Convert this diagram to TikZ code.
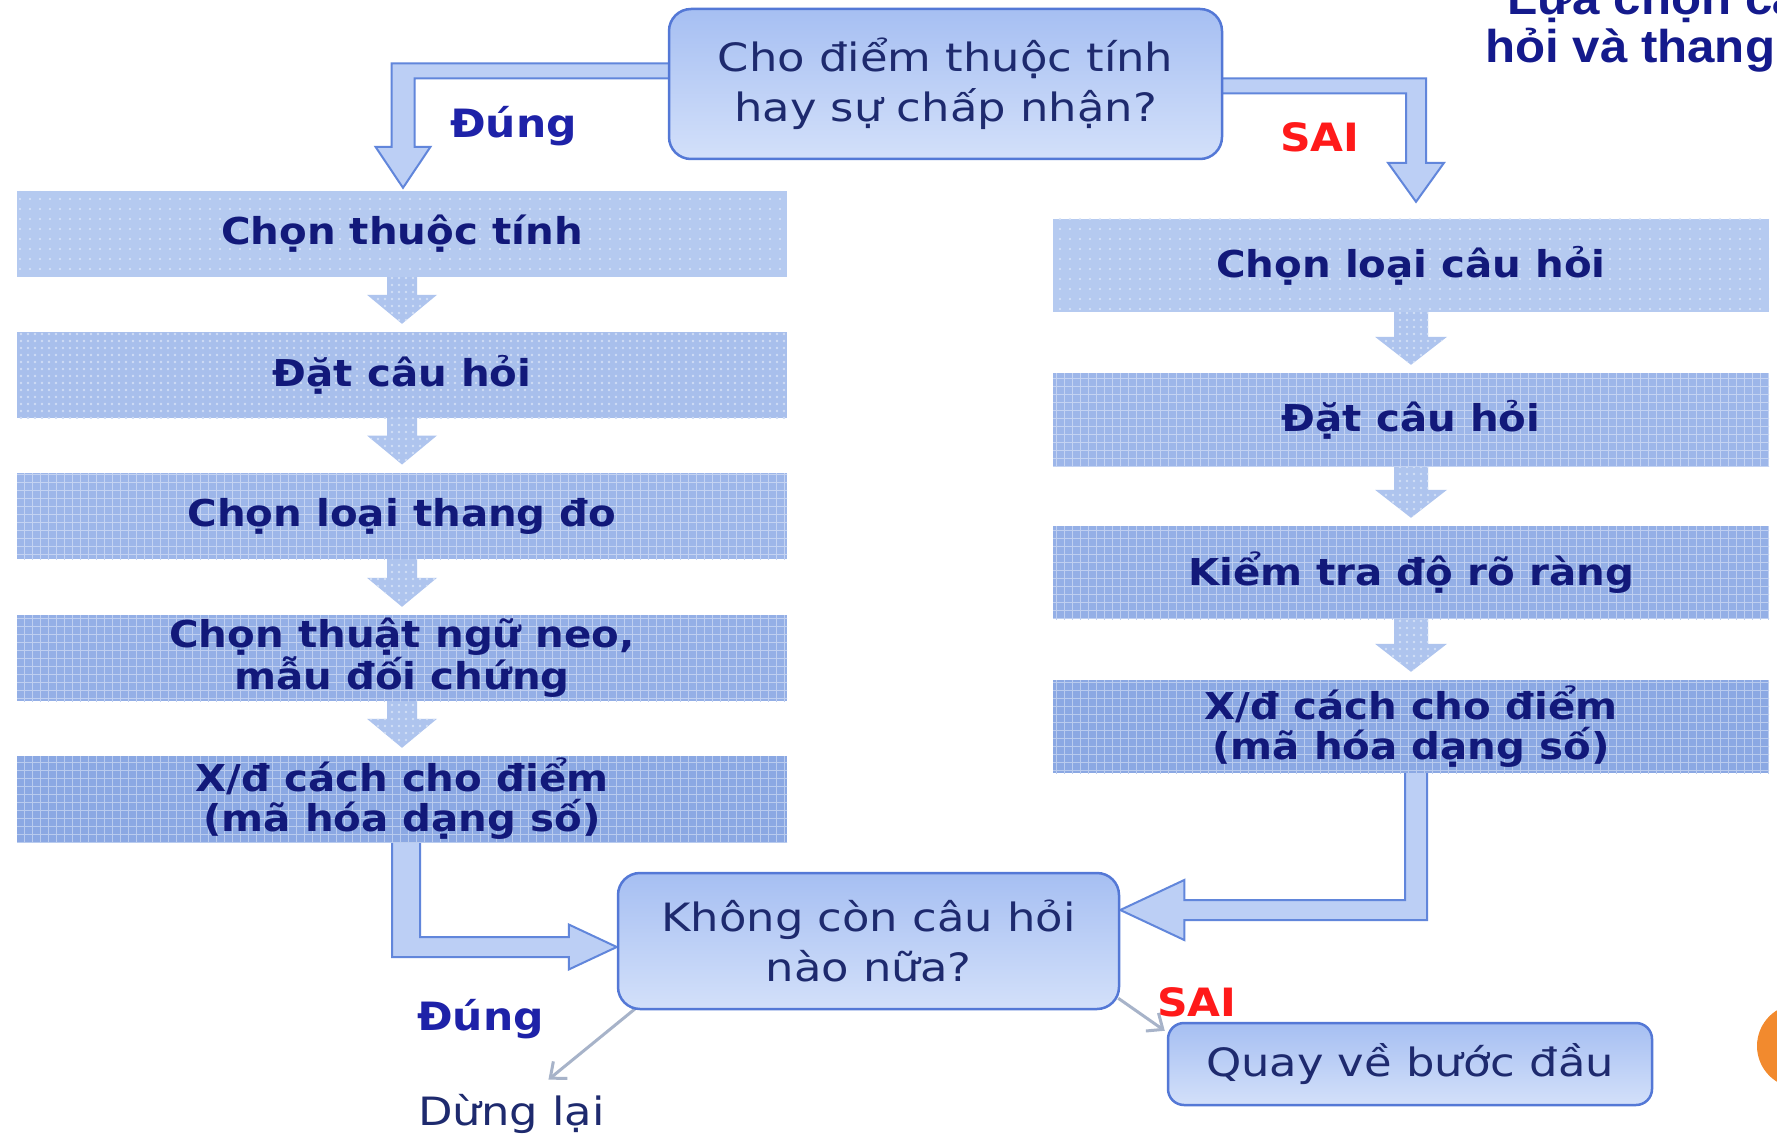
\documentclass[tikz,border=0pt]{standalone}
\usepackage{fontspec}
\setmainfont{DejaVu Sans}
\newfontfamily\regfont{DejaVu Sans}[FakeStretch=1.15]
\newfontfamily\boldfont{DejaVu Sans}[FakeStretch=1.09]
\newfontfamily\titlefont{Liberation Sans}[FakeStretch=1.07]
\usetikzlibrary{calc,patterns.meta,arrows.meta}
\pgfdeclarelayer{bg}
\pgfdeclarelayer{arr}
\pgfsetlayers{bg,arr,main}
\definecolor{cBoxText}{HTML}{12197A}
\definecolor{cRText}{HTML}{1E2A6E}
\definecolor{cLbl}{HTML}{1E22A8}
\definecolor{cSai}{HTML}{FF1A1A}
\definecolor{cTitle}{HTML}{141A8C}
\definecolor{cRBorder}{HTML}{5478D6}
\definecolor{cRTop}{HTML}{A6BFF2}
\definecolor{cRBot}{HTML}{D3E0FA}
\definecolor{cAFill}{HTML}{BCCFF5}
\definecolor{cABorder}{HTML}{6186DB}
\definecolor{cThin}{HTML}{A7B3C9}
\definecolor{cOrange}{HTML}{F28A2E}
\definecolor{cL1}{HTML}{B5CAF0}
\definecolor{cL2}{HTML}{A8BFEC}
\definecolor{cL3}{HTML}{9DB6E9}
\definecolor{cL4}{HTML}{94AFE6}
\definecolor{cL5}{HTML}{8BA8E3}
\definecolor{cArr}{HTML}{AEC4EE}
\newcommand{\blockdown}[5]{%
  \path[finedots=cArr] let \p1=(#1.south), \p2=(#2.north) in
   (\x1-#3,\y1+3pt) -- (\x1+#3,\y1+3pt) -- (\x1+#3,\y2+8pt+#5) -- (\x1+#4,\y2+8pt+#5)
   -- (\x1,\y2+8pt) -- (\x1-#4,\y2+8pt+#5) -- (\x1-#3,\y2+8pt+#5) -- cycle;}
\begin{document}
\begin{tikzpicture}[x=1pt,y=-1pt,
  pbox/.style={minimum width=770pt, minimum height=86pt, inner sep=0pt, align=center,
    text=cBoxText, font=\boldfont\bfseries\fontsize{37}{40}\selectfont},
  rpbox/.style={pbox, minimum width=716pt, minimum height=93pt},
  dotsfill/.style={preaction={fill=#1}, pattern={Dots[distance=10pt,radius=1.2pt]}, pattern color=white!50!#1},
  finedots/.style={preaction={fill=#1}, pattern={Dots[distance=7pt,radius=1.3pt]}, pattern color=white!45!#1},
  gridfill/.style={preaction={fill=#1}, pattern={Hatch[distance=8pt,line width=1pt]}, pattern color=white!40!#1},
  rbox/.style={draw=cRBorder, line width=2.5pt, rounded corners=22pt, top color=cRTop, bottom color=cRBot,
    align=center, text=cRText, inner sep=0pt, font=\regfont\fontsize{39}{50}\selectfont},
  harr/.style={fill=cAFill, draw=cABorder, line width=2pt, line join=miter},
  lbl/.style={anchor=base west, inner sep=0pt, font=\boldfont\bfseries\fontsize{39}{43}\selectfont},
  ttl/.style={anchor=base west, inner sep=0pt, text=cTitle, font=\titlefont\bfseries\fontsize{46}{48}\selectfont},
  tarr/.style={draw=cThin, line width=3pt, -{Straight Barb[length=13pt,width=22pt]}},
]
\useasboundingbox (0,0) rectangle (1777,1139);
\begin{pgfonlayer}{bg}
\fill[white] (0,0) rectangle (1777,1139);
\end{pgfonlayer}
\clip (0,0) rectangle (1777,1139);

% nodes
\node[rbox, minimum width=553pt, minimum height=150pt] (q1) at (945.5,84) {Cho điểm thuộc tính\\hay sự chấp nhận?};
\node[pbox, dotsfill=cL1] (lb1) at (402,234) {Chọn thuộc tính};
\node[pbox, finedots=cL2] (lb2) at (402,375) {Đặt câu hỏi};
\node[pbox, gridfill=cL3] (lb3) at (402,516) {Chọn loại thang đo};
\node[pbox, gridfill=cL4] (lb4) at (402,658) {Chọn thuật ngữ neo,\\mẫu đối chứng};
\node[pbox, gridfill=cL5] (lb5) at (402,799) {X/đ cách cho điểm\\(mã hóa dạng số)};
\node[rpbox, dotsfill=cL1] (rb1) at (1411,265.5) {Chọn loại câu hỏi};
\node[rpbox, gridfill=cL3] (rb2) at (1411,419.5) {Đặt câu hỏi};
\node[rpbox, gridfill=cL4] (rb3) at (1411,572.5) {Kiểm tra độ rõ ràng};
\node[rpbox, gridfill=cL5] (rb4) at (1411,726.5) {X/đ cách cho điểm\\(mã hóa dạng số)};
\node[rbox, minimum width=501pt, minimum height=136pt] (q2) at (868.5,941) {Không còn câu hỏi\\nào nữa?};
\node[rbox, minimum width=484pt, minimum height=82pt, rounded corners=16pt] (back) at (1410,1064) {Quay về bước đầu};
\node[anchor=base west, inner sep=0pt, text=cRText, font=\regfont\fontsize{39}{43}\selectfont] (stop) at (418,1125) {Dừng lại};

% labels
\node[lbl, text=cLbl] (y1) at (450,138) {Đúng};
\node[lbl, text=cSai] (n1) at (1280,152) {SAI};
\node[lbl, text=cLbl] (y2) at (417,1030) {Đúng};
\node[lbl, text=cSai] (n2) at (1157,1016) {SAI};

% cropped title and circle at the edge
\node[ttl] (t1) at (1507,15) {Lựa chọn câu};
\node[ttl] (t2) at (1485,63) {hỏi và thang đo};
\fill[cOrange] (1799,1046) circle (42pt);

\begin{pgfonlayer}{arr}
% top-left hollow arrow
\path[harr] let \p1=($(q1.west)+(6,-13)$), \p2=($(lb1.north)+(1,-3)$) in
  (\x1,\y1+7.5pt) -- (\x2-11.5pt,\y1+7.5pt) -- (\x2-11.5pt,\y2+41pt) -- (\x2-27.5pt,\y2+41pt)
  -- (\x2,\y2) -- (\x2+27.5pt,\y2+41pt) -- (\x2+11.5pt,\y2+41pt) -- (\x2+11.5pt,\y1-7.5pt)
  -- (\x1,\y1-7.5pt) -- cycle;
% top-right hollow arrow
\path[harr] let \p1=($(q1.east)+(-6,2)$), \p2=($(rb1.north)+(5,-17)$) in
  (\x1,\y1+7.5pt) -- (\x2+10pt,\y1+7.5pt) -- (\x2+10pt,\y2+39pt) -- (\x2+28pt,\y2+39pt)
  -- (\x2,\y2) -- (\x2-28pt,\y2+39pt) -- (\x2-10pt,\y2+39pt) -- (\x2-10pt,\y1-7.5pt)
  -- (\x1,\y1-7.5pt) -- cycle;
% bottom-left hollow arrow
\path[harr] let \p1=($(lb5.south)+(0,-3)$), \p2=($(q2.west)+(0,6)$) in
  (\x1-10pt,\y1) -- (\x1-10pt,\y2-10pt) -- (\x2-48pt,\y2-10pt) -- (\x2-48pt,\y2-22.5pt)
  -- (\x2,\y2) -- (\x2-48pt,\y2+22.5pt) -- (\x2-48pt,\y2+10pt) -- (\x1+18pt,\y2+10pt)
  -- (\x1+18pt,\y1) -- cycle;
% bottom-right hollow arrow
\path[harr] let \p1=($(rb4.south)+(0,-3)$), \p2=($(q2.east)+(0,-31)$) in
  (\x1-6pt,\y1) -- (\x1-6pt,\y2+10pt) -- (\x2+64pt,\y2+10pt) -- (\x2+64pt,\y2+30pt)
  -- (\x2,\y2) -- (\x2+64pt,\y2-30pt) -- (\x2+64pt,\y2-10pt) -- (\x1+16pt,\y2-10pt)
  -- (\x1+16pt,\y1) -- cycle;
% block arrows between steps
\blockdown{lb1}{lb2}{15pt}{35pt}{29pt}
\blockdown{lb2}{lb3}{15pt}{35pt}{29pt}
\blockdown{lb3}{lb4}{15pt}{35pt}{29pt}
\blockdown{lb4}{lb5}{15pt}{35pt}{29pt}
\blockdown{rb1}{rb2}{17pt}{36pt}{28pt}
\blockdown{rb2}{rb3}{17pt}{36pt}{28pt}
\blockdown{rb3}{rb4}{17pt}{36pt}{28pt}
% thin arrows
\draw[tarr] ($(q2.south west)+(19,-2)$) -- ($(stop.north)+(37,-14)$);
\draw[tarr] ($(q2.south east)+(-2,-12)$) -- ($(back.north west)+(-2,9)$);
\end{pgfonlayer}
\end{tikzpicture}
\end{document}
